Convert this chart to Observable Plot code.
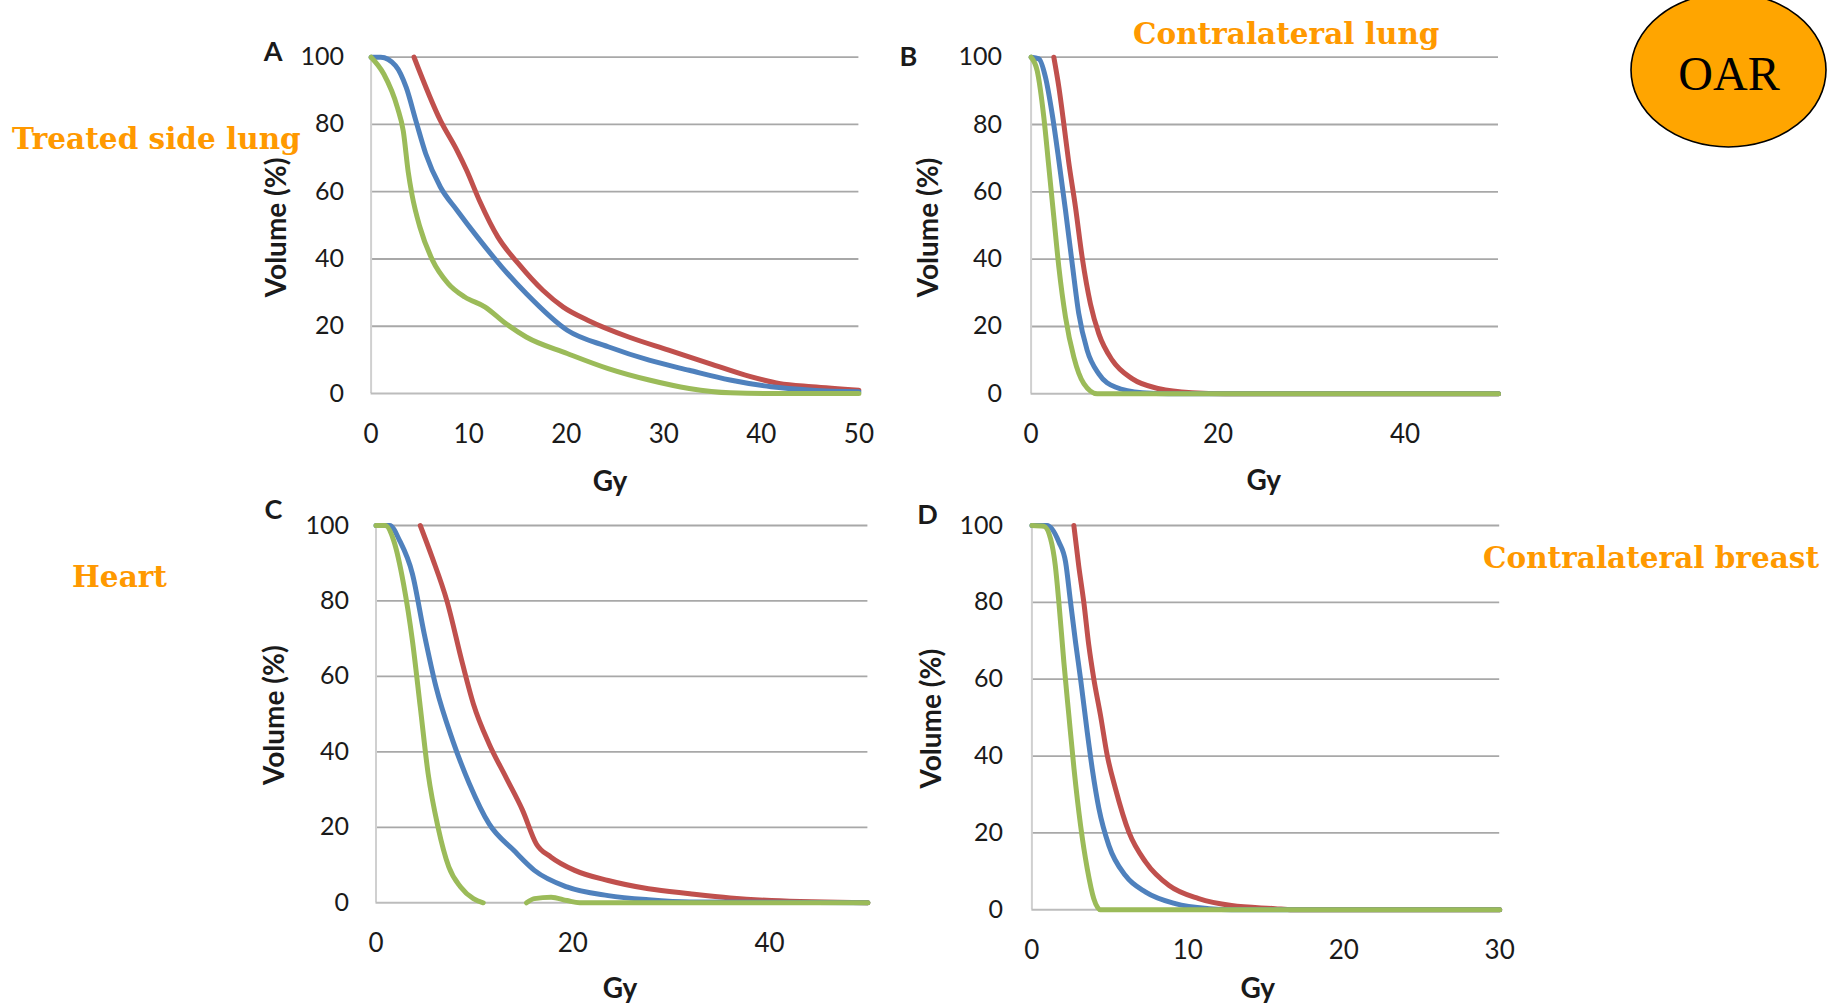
<!DOCTYPE html>
<html>
<head>
<meta charset="utf-8">
<script src="https://cdn.jsdelivr.net/npm/d3@7"></script>
<script src="https://cdn.jsdelivr.net/npm/@observablehq/plot@0.6"></script>
<style>
  html, body { margin: 0; padding: 0; background: #fff; }
  #page { position: relative; width: 1827px; height: 1005px; overflow: hidden; background: #fff; }
  .panel { position: absolute; }
  .organ { position: absolute; font-family: "DejaVu Serif", serif; font-weight: bold; color: #FF9900; font-size: 29.5px; white-space: nowrap; line-height: 1; }
</style>
</head>
<body>
<div id="page"></div>
<script>
// ---- Data (dose in Gy, volume in %) ----
const volumeTicks = [0, 20, 40, 60, 80, 100];

// Panel A – treated side lung
const doseTicksA = [0, 10, 20, 30, 40, 50];
const aRed = [[4.4,100],[7.1,81.2],[8.8,72.3],[9.8,66.3],[11.1,57.4],[13.0,46.5],[15.1,38.6],[17.6,30.7],[19.7,25.7],[22.2,21.8],[26.4,16.8],[30.5,12.9],[34.7,8.9],[38.9,5.0],[41.8,3.0],[45.2,2.0],[50,1.0]];
const aBlue = [[0,100],[1.0,100],[2.5,97.5],[3.6,91],[4.6,81],[5.6,71.3],[7.1,61.4],[8.8,54.5],[10.9,46.5],[13.4,37.6],[15.9,29.7],[20.1,18.8],[24.3,13.9],[28.5,9.9],[32.6,6.9],[36.8,4.0],[41.0,2.0],[45.2,1.0],[50,0.5]];
const aGreen = [[0,100],[1.3,95],[2.7,85],[3.3,78],[3.8,66],[4.2,59],[5.0,49.5],[6.3,39.6],[7.9,32.7],[9.6,28.7],[11.7,25.7],[13.8,20.8],[15.9,16.8],[20.1,11.9],[24.3,7.4],[28.5,4.0],[32.6,1.5],[36.8,0.2],[41,0],[50,0]];

// Panel B – contralateral lung
const doseTicksB = [0, 20, 40];
const bRed = [[2.43,100],[2.97,91.1],[3.5,80.2],[4.0,69.3],[4.75,55.4],[5.46,40.6],[6.35,26.7],[7.25,17.8],[8.7,9.9],[10.8,4.5],[13.7,1.5],[17.2,0.3],[20.8,0],[50,0]];
const bBlue = [[0,100],[0.83,99.5],[1.54,94],[2.25,83.2],[2.97,69.3],[3.68,54.5],[4.4,38.6],[5.1,23.8],[6.0,12.9],[7.24,5.9],[9.0,2.0],[11.9,0.3],[14.7,0],[50,0]];
const bGreen = [[0,100],[0.65,96],[1.36,82.2],[1.9,67.3],[2.43,52.5],[2.97,37.6],[3.68,22.8],[4.57,10.9],[5.64,3.0],[7.07,0],[50,0]];

// Panel C – heart
const doseTicksC = [0, 20, 40];
const cRed = [[4.5,100],[5.7,91.6],[7.2,80.1],[8.8,63.3],[9.9,52.7],[11.5,42.1],[13.2,33.3],[14.9,24.5],[16.3,15.6],[17.8,12.1],[20.2,8.6],[23.6,5.9],[27.7,3.7],[31.9,2.4],[36.0,1.3],[40.2,0.6],[50,0]];
const cBlue = [[0,100],[1.4,100],[2.4,96],[3.7,87.2],[4.9,71.3],[6.1,57.2],[7.8,43],[9.5,31.5],[11.5,20.9],[14.0,13.9],[16.1,8.6],[19.4,4.2],[23.6,1.9],[27.7,0.8],[31.9,0.2],[50,0]];
const cGreen = [[0,100],[0.95,100],[1.8,96],[2.8,84.5],[3.7,69.5],[4.5,51.9],[5.3,34.2],[6.3,20.1],[7.4,9.5],[8.6,4.2],[9.9,1.1],[10.9,0],[13,NaN],[15.3,0],[16.1,1.1],[17.8,1.5],[19.4,0.6],[20.7,0],[50,0]];

// Panel D – contralateral breast
const doseTicksD = [0, 10, 20, 30];
const dRed = [[2.69,100],[3.0,89.6],[3.33,80],[3.65,68.8],[3.97,60.1],[4.4,50.6],[4.83,40.2],[5.36,31.5],[6.22,20.2],[7.3,12.4],[8.8,6.3],[10.7,2.9],[12.8,1.1],[15.6,0.3],[16.7,0],[30,0]];
const dBlue = [[0,100],[0.98,100],[1.73,95.7],[2.16,90.5],[2.48,80],[2.8,69.6],[3.12,60.1],[3.55,46.2],[3.87,36.7],[4.3,26.3],[4.94,16.7],[6.0,8.9],[7.3,4.6],[9.2,1.6],[11.35,0.3],[12.8,0],[30,0]];
const dGreen = [[0,100],[0.77,99.8],[1.2,96.5],[1.5,89.6],[1.73,80],[2.05,64.4],[2.37,50.6],[2.7,36.7],[3.12,22],[3.55,10.7],[3.97,2.9],[4.4,0],[30,0]];

const seriesColors = ["#C0504D", "#4F81BD", "#9BBB59"];
const organLabels = ["Treated side lung", "Contralateral lung", "Heart", "Contralateral breast"];
const panelLetters = ["A", "B", "C", "D"];

// ---- Drawing ----
const page = document.getElementById("page");

function toRows(pairs) { return pairs.map(([dose, vol]) => ({dose, vol})); }

function panel(cfg) {
  const lines = cfg.series.map((s, i) =>
    Plot.line(toRows(s), {x: "dose", y: "vol", stroke: seriesColors[i], strokeWidth: 5, curve: "monotone-x"}));
  const svg = Plot.plot({
    width: cfg.width, height: cfg.height,
    marginLeft: cfg.ml, marginRight: cfg.mr, marginTop: cfg.mt, marginBottom: cfg.mb,
    style: {background: "transparent", fontFamily: "Lato, 'Open Sans', sans-serif", overflow: "visible", color: "#1a1a1a"},
    x: {domain: cfg.xDomain},
    y: {domain: [0, 100]},
    marks: [
      Plot.ruleY(volumeTicks.filter(v => v > 0), {stroke: "#a8a8a8", strokeWidth: 1.8}),
      Plot.ruleX([0], {stroke: "#d0d0d0", strokeWidth: 2}),
      Plot.ruleY([0], {stroke: "#bcbcbc", strokeWidth: 2}),
      Plot.axisX({ticks: cfg.xTicks, tickSize: 0, tickPadding: 31, fontSize: 26, label: null}),
      Plot.axisY({ticks: volumeTicks, tickSize: 0, tickPadding: cfg.yPad, fontSize: 25, label: null}),
      ...lines,
      Plot.text(["Gy"], {frameAnchor: "bottom", lineAnchor: "middle", textAnchor: "middle", dx: cfg.gyDx, dy: cfg.gyDy, fontSize: 28, fontWeight: "bold"}),
      Plot.text(["Volume (%)"], {frameAnchor: "left", lineAnchor: "middle", textAnchor: "middle", dx: cfg.volDx, dy: cfg.volDy, rotate: -90, fontSize: 28, fontWeight: "bold"}),
      Plot.text([cfg.letter], {frameAnchor: "top-left", lineAnchor: "middle", textAnchor: "middle", dx: cfg.letDx, dy: cfg.letDy, fontSize: 27, fontWeight: "bold"})
    ]
  });
  svg.classList.add("panel");
  svg.style.left = cfg.left + "px";
  svg.style.top = cfg.top + "px";
  svg.style.maxWidth = "none";
  page.appendChild(svg);
}

panel({left: 240, top: 0, width: 640, height: 500, ml: 130.6, mr: 21.6, mt: 56.7, mb: 107,
  xDomain: [0, 50], xTicks: doseTicksA, yPad: 27, series: [aRed, aBlue, aGreen],
  gyDx: -5, gyDy: 89, volDx: -94, volDy: 2, letter: panelLetters[0], letDx: -98, letDy: -5});
panel({left: 900, top: 0, width: 620, height: 500, ml: 130.6, mr: 22, mt: 56.7, mb: 106.7,
  xDomain: [0, 50], xTicks: doseTicksB, yPad: 29, series: [bRed, bBlue, bGreen],
  gyDx: -1, gyDy: 87, volDx: -102, volDy: 2, letter: panelLetters[1], letDx: -122.6, letDy: 0});
panel({left: 240, top: 490, width: 650, height: 515, ml: 135.5, mr: 22.6, mt: 35, mb: 102.7,
  xDomain: [0, 50], xTicks: doseTicksC, yPad: 27, series: [cRed, cBlue, cGreen],
  gyDx: -2, gyDy: 86, volDx: -101, volDy: 1, letter: panelLetters[2], letDx: -102.5, letDy: -15});
panel({left: 900, top: 490, width: 620, height: 515, ml: 131.4, mr: 20.8, mt: 35, mb: 95.7,
  xDomain: [0, 30], xTicks: doseTicksD, yPad: 29, series: [dRed, dBlue, dGreen],
  gyDx: -8, gyDy: 79, volDx: -100, volDy: 1, letter: panelLetters[3], letDx: -104.4, letDy: -10});

// Organ labels
const labelPos = [[12, 137], [1133, 32], [72, 575], [1483, 556]];
organLabels.forEach((t, i) => {
  const d = document.createElement("div");
  d.className = "organ";
  d.textContent = t;
  d.style.left = labelPos[i][0] + "px";
  d.style.top = (labelPos[i][1] - 13) + "px";
  page.appendChild(d);
});

// OAR badge
const badge = document.createElementNS("http://www.w3.org/2000/svg", "svg");
badge.setAttribute("width", 1827); badge.setAttribute("height", 170);
badge.style.position = "absolute"; badge.style.left = "0px"; badge.style.top = "0px";
badge.innerHTML = '<ellipse cx="1728.5" cy="70" rx="97.5" ry="77" fill="#FFA500" stroke="#000" stroke-width="1.6"/>' +
  '<text x="1729" y="90" text-anchor="middle" font-family="Liberation Serif, Times New Roman, serif" font-size="48" fill="#000">OAR</text>';
page.appendChild(badge);
</script>
</body>
</html>
